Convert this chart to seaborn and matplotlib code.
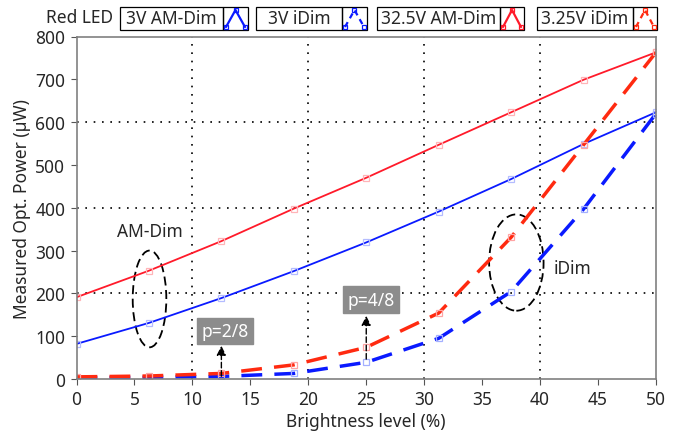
import numpy as np
import pandas as pd
import seaborn as sns
import matplotlib.pyplot as plt
from matplotlib.patches import Ellipse, Rectangle
from matplotlib.lines import Line2D

# brightness levels (%)
brightness = [0, 6.25, 12.5, 18.75, 25, 31.25, 37.5, 43.75, 50]

# measured optical power (uW)
am_3v = [82, 131, 189, 252, 319, 391, 467, 549, 623]
idim_3v = [3, 4, 6, 13, 39, 95, 204, 397, 620]
am_325v = [191, 253, 322, 398, 470, 547, 623, 699, 763]
idim_325v = [5, 7, 13, 33, 74, 154, 331, 547, 763]

labels = ["3V AM-Dim", "3V iDim", "32.5V AM-Dim", "3.25V iDim"]
series = [am_3v, idim_3v, am_325v, idim_325v]

df = pd.DataFrame({
    "Brightness": brightness * 4,
    "Power": sum(series, []),
    "Series": np.repeat(labels, len(brightness)),
})

sns.set_style("white")
plt.rcParams['font.family'] = ['Noto Sans', 'DejaVu Sans']

colors = {"3V AM-Dim": "#0a1aff", "3V iDim": "#0a1aff",
          "32.5V AM-Dim": "#ff1a2a", "3.25V iDim": "#ff2a10"}
mk_colors = {"3V AM-Dim": "#b4bcff", "3V iDim": "#a4b0ff",
             "32.5V AM-Dim": "#ffb4b8", "3.25V iDim": "#ffa4a4"}
is_dashed = {"3V AM-Dim": False, "3V iDim": True, "32.5V AM-Dim": False, "3.25V iDim": True}

W, H = 685, 435
fig = plt.figure(figsize=(W / 100, H / 100), dpi=100)
ax = fig.add_axes([76.5 / W, 1 - 380 / H, (656 - 76.5) / W, (380 - 37.5) / H])

for lab in labels:
    sub = df[df["Series"] == lab]
    sns.lineplot(data=sub, x="Brightness", y="Power", ax=ax, color=colors[lab],
                 lw=2.5 if is_dashed[lab] else 1.3, legend=False)
    if is_dashed[lab]:
        ax.lines[-1].set_dashes([6, 3.5])
    ax.plot(sub["Brightness"], sub["Power"], ls="none", marker="s", ms=5,
            mfc="none", mec=mk_colors[lab], mew=0.9)

ax.set_xlim(0, 50)
ax.set_ylim(0, 800)
ax.set_xticks(range(0, 51, 5))
ax.set_yticks(range(0, 801, 100))
ax.tick_params(labelsize=12.5, length=4, width=0.8, direction="out", pad=4, color="#555555")
ax.tick_params(axis="both", which="both", bottom=True, left=True)
for s in ax.spines.values():
    s.set_color("#808080")
    s.set_linewidth(1.2)

for gx in [10, 20, 30, 40]:
    ax.axvline(gx, color="black", ls=(0, (1, 4)), lw=1.2, zorder=0)
for gy in [200, 400, 600]:
    ax.axhline(gy, color="black", ls=(0, (1, 4)), lw=1.2, zorder=0)

ax.set_xlabel("Brightness level (%)", fontsize=12.5, labelpad=3)
ax.set_ylabel("Measured Opt. Power (\u00b5W)", fontsize=12.5, labelpad=3)

# annotations
ax.add_patch(Ellipse((6.3, 187), 2.9, 226, fill=False, ec="black", ls=(0, (5, 2.5)), lw=1.3))
ax.add_patch(Ellipse((37.95, 272), 4.7, 225, fill=False, ec="black", ls=(0, (5, 2.5)), lw=1.3))
ax.text(6.3, 346, "AM-Dim", fontsize=12.5, ha="center", va="center")
ax.text(41.2, 259, "iDim", fontsize=12.5, ha="left", va="center")

box = dict(boxstyle="square,pad=0.25", fc="#8c8c8c", ec="#8c8c8c")
ax.text(12.8, 112, "p=2/8", fontsize=12.5, color="white", ha="center", va="center", bbox=box)
ax.text(25.4, 185, "p=4/8", fontsize=12.5, color="white", ha="center", va="center", bbox=box)
ax.annotate("", xy=(12.5, 84), xytext=(12.5, 0),
            arrowprops=dict(arrowstyle="-|>", color="black", ls=(0, (4, 2)), lw=1, mutation_scale=14))
ax.annotate("", xy=(25, 154), xytext=(25, 40),
            arrowprops=dict(arrowstyle="-|>", color="black", ls=(0, (4, 2)), lw=1, mutation_scale=14))

# legend row on top, drawn in figure pixels
def px(x, y):
    return x / W, 1 - y / H

fig.text(*px(80, 18), "Red LED", fontsize=12.5, ha="center", va="center")
leg_boxes = [(120, 223, 248), (256, 342, 367), (377, 500, 524), (537, 633, 657)]
for lab, (x0, x1, x2) in zip(labels, leg_boxes):
    for a, b in [(x0, x1), (x1, x2)]:
        fig.add_artist(Rectangle(px(a, 31), (b - a) / W, 23 / H, transform=fig.transFigure,
                                 fill=False, ec="black", lw=0.9))
    fig.text(*px((x0 + x1) / 2, 19.5), lab, fontsize=12.5, ha="center", va="center")
    xs = [px(x1 + 3, 28)[0], px((x1 + x2) / 2, 11)[0], px(x2 - 3, 28)[0]]
    ys = [px(0, 28)[1], px(0, 11)[1], px(0, 28)[1]]
    fig.add_artist(Line2D(xs, ys, transform=fig.transFigure, color=colors[lab], lw=1.6,
                          ls=(0, (2.5, 2)) if is_dashed[lab] else "-",
                          marker="s", ms=3.5, mfc="none", mec=colors[lab], mew=0.9))

fig.savefig("out.png", dpi=100)
